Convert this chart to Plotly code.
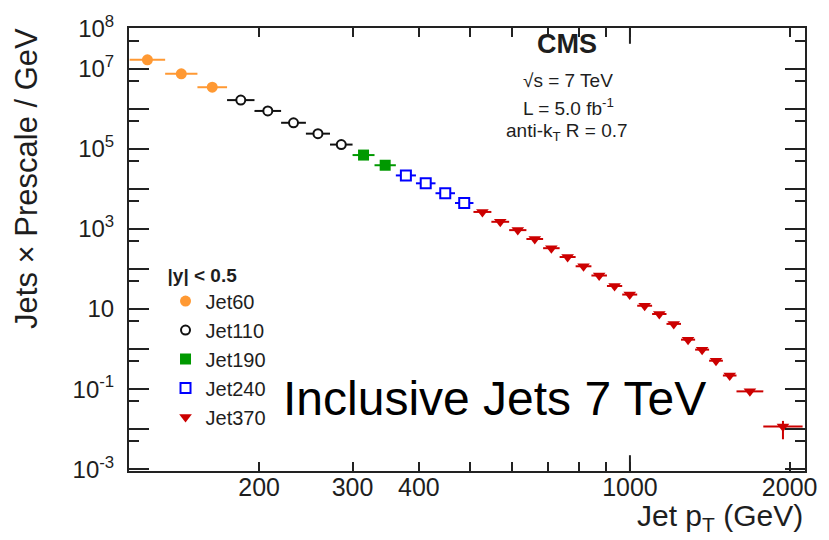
import math
import plotly.graph_objects as go

# Jet pT bin edges (GeV) used by the inclusive jet measurement
pt_edges = [114, 133, 153, 174, 196, 220, 245, 272, 300, 330, 362, 395, 430,
            468, 507, 548, 592, 638, 686, 737, 790, 846, 905, 967, 1032, 1101,
            1172, 1248, 1327, 1410, 1497, 1588, 1784, 2116]

# Jets x Prescale / GeV for each trigger path, |y| < 0.5
jet60 = [1.67e7, 7.5e6, 3.46e6]
jet110 = [1.65e6, 8.85e5, 4.48e5, 2.40e5, 1.28e5]
jet190 = [7.0e4, 3.9e4]
jet240 = [2.17e4, 1.38e4, 7.8e3, 4.44e3]
jet370 = [2660, 1510, 935, 562, 331, 199, 117, 68.8, 37.7, 23.0, 12.1, 7.52,
          4.26, 1.72, 0.97, 0.513, 0.219, 0.088, 0.0116]
# statistical uncertainty on the highest-pT Jet370 bin
jet370_err_up = [0.0045]
jet370_err_down = [0.0060]

y_tick_vals = [1e-3, 1e-2, 1e-1, 1, 10, 1e2, 1e3, 1e4, 1e5, 1e6, 1e7, 1e8]
y_tick_text = ["10<sup>-3</sup>", "", "10<sup>-1</sup>", "", "10", "",
               "10<sup>3</sup>", "", "10<sup>5</sup>", "", "10<sup>7</sup>",
               "10<sup>8</sup>"]
x_tick_vals = [200, 300, 400, 1000, 2000]
x_tick_text = ["200", "300", "400", "1000", "2000"]

series = [
    ("Jet60", jet60, dict(symbol="circle", size=11, color="#FF9933",
                          line=dict(width=0)), "#FF9933"),
    ("Jet110", jet110, dict(symbol="circle", size=9, color="white",
                            line=dict(width=2, color="#111111")), "#111111"),
    ("Jet190", jet190, dict(symbol="square", size=11, color="#009900",
                            line=dict(width=0)), "#009900"),
    ("Jet240", jet240, dict(symbol="square", size=10, color="white",
                            line=dict(width=2, color="#0000FF")), "#0000FF"),
    ("Jet370", jet370, dict(symbol="triangle-down", size=11, color="#CC0000",
                            line=dict(width=0)), "#CC0000"),
]

FONT = "Liberation Sans, Arial, sans-serif"
TEXT = "#1e1e1e"

fig = go.Figure()
start = 0
for name, values, marker, col in series:
    lo = pt_edges[start:start + len(values)]
    hi = pt_edges[start + 1:start + len(values) + 1]
    centers = [math.sqrt(a * b) for a, b in zip(lo, hi)]
    err_plus = [b - c for b, c in zip(hi, centers)]
    err_minus = [c - a for a, c in zip(lo, centers)]
    trace = dict(
        x=centers, y=values, name=name, mode="markers", marker=marker,
        error_x=dict(type="data", array=err_plus, arrayminus=err_minus,
                     width=0, thickness=2, color=col),
    )
    if name == "Jet370":
        n = len(values)
        trace["error_y"] = dict(
            type="data",
            array=[0] * (n - 1) + jet370_err_up,
            arrayminus=[0] * (n - 1) + jet370_err_down,
            width=0, thickness=2, color=col)
    fig.add_trace(go.Scatter(**trace))
    start += len(values)

x_lo, x_hi = 2.0557, 3.330
y_lo, y_hi = -3.044, 8.018

axis_common = dict(
    showline=True, linecolor="#222222", linewidth=2, mirror="ticks",
    ticks="inside", tickcolor="#222222", tickwidth=2, showgrid=False,
    zeroline=False,
)

fig.update_xaxes(
    type="log", range=[x_lo, x_hi], tickmode="array",
    tickvals=x_tick_vals, ticktext=x_tick_text, ticklen=9,
    ticklabelstandoff=-7,
    tickfont=dict(family=FONT, size=25, color=TEXT),
    minor=dict(tickmode="array", tickvals=[500, 600, 700, 800, 900],
               ticks="inside", ticklen=9, tickwidth=2, tickcolor="#222222"),
    **axis_common,
)
fig.update_yaxes(
    type="log", range=[y_lo, y_hi], tickmode="array",
    tickvals=y_tick_vals, ticktext=y_tick_text, ticklen=20,
    ticklabelstandoff=8,
    tickfont=dict(family=FONT, size=24, color=TEXT),
    minor=dict(tickmode="array",
               tickvals=[5 * 10 ** k for k in range(-3, 8)],
               ticks="inside", ticklen=10, tickwidth=2, tickcolor="#222222"),
    **axis_common,
)

# longer primary tick at 1000 GeV, bottom and top
x1000 = (3 - x_lo) / (x_hi - x_lo)
for y0, y1 in [(0, 16 / 449), (1, 1 - 16 / 449)]:
    fig.add_shape(type="line", xref="paper", yref="paper",
                  x0=x1000, x1=x1000, y0=y0, y1=y1,
                  line=dict(color="#222222", width=2))


def py(px):
    """Paper y coordinate of a pixel row."""
    return (471 - px) / 449


def px_x(px):
    """Paper x coordinate of a pixel column."""
    return (px - 129) / 685


annotations = [
    dict(text="<b>CMS</b>", x=573, y=38, size=27),
    dict(text="√s = 7 TeV", x=574, y=75, size=19),
    dict(text="L = 5.0 fb<sup>-1</sup>", x=574, y=102, size=19),
    dict(text="anti-k<sub>T</sub> R = 0.7", x=573, y=127, size=19),
]
for a in annotations:
    fig.add_annotation(text=a["text"], xref="paper", yref="paper",
                       x=px_x(a["x"]), y=py(a["y"]),
                       xanchor="center", yanchor="middle", showarrow=False,
                       font=dict(family=FONT, size=a["size"], color=TEXT))

fig.add_annotation(text="Inclusive Jets 7 TeV", xref="paper", yref="paper",
                   x=px_x(283), y=py(398),
                   xanchor="left", yanchor="middle", showarrow=False,
                   font=dict(family=FONT, size=48, color="black"))

fig.add_annotation(text="Jet p<sub>T</sub> (GeV)", xref="paper", yref="paper",
                   x=px_x(814), y=py(518),
                   xanchor="right", yanchor="middle", showarrow=False,
                   font=dict(family=FONT, size=30, color=TEXT))

fig.add_annotation(text="Jets × Prescale / GeV", xref="paper", yref="paper",
                   x=px_x(25), y=py(20), textangle=-90,
                   xanchor="center", yanchor="top", showarrow=False,
                   font=dict(family=FONT, size=31, color=TEXT))

fig.update_layout(
    width=829, height=540,
    margin=dict(l=129, r=15, t=22, b=69),
    paper_bgcolor="white", plot_bgcolor="white",
    showlegend=True,
    legend=dict(
        x=px_x(166), y=py(254),
        xanchor="left", yanchor="top",
        bgcolor="rgba(0,0,0,0)", borderwidth=0,
        title=dict(text="<b>|y| &lt; 0.5</b>",
                   font=dict(family=FONT, size=19, color=TEXT)),
        font=dict(family=FONT, size=20, color=TEXT),
        tracegroupgap=0,
    ),
)

fig.write_html("out.html")
